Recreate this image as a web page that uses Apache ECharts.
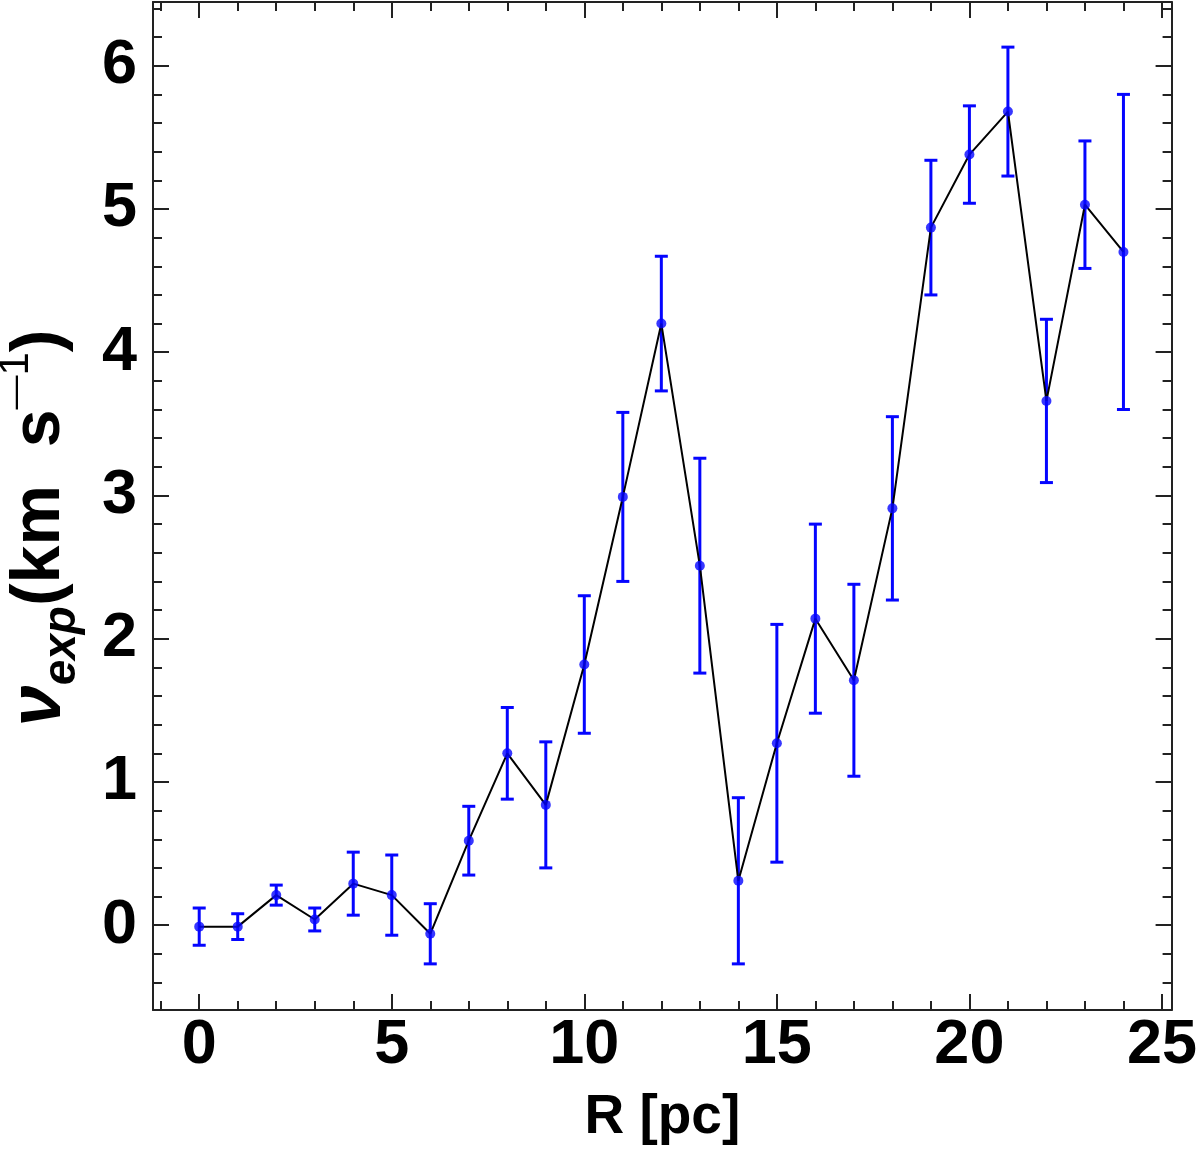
<!DOCTYPE html>
<html>
<head>
<meta charset="utf-8">
<script src="https://cdn.jsdelivr.net/npm/echarts@6/dist/echarts.min.js"></script>
<style>
  html, body { margin: 0; padding: 0; background: #fff; }
  #chart { width: 1200px; height: 1150px; }
</style>
</head>
<body>
<div id="chart"></div>
<script>
  // 数据
  var radius = [0, 1, 2, 3, 4, 5, 6, 7, 8, 9, 10, 11, 12, 13, 14, 15, 16, 17, 18, 19, 20, 21, 22, 23, 24];
  var vexp = [-0.01, -0.01, 0.21, 0.04, 0.29, 0.21, -0.06, 0.59, 1.20, 0.84, 1.82, 2.99, 4.20, 2.51,
              0.31, 1.27, 2.14, 1.71, 2.91, 4.87, 5.38, 5.68, 3.66, 5.03, 4.70];
  var vexpErr = [0.13, 0.09, 0.07, 0.08, 0.22, 0.28, 0.21, 0.24, 0.32, 0.44, 0.48, 0.59, 0.47, 0.75,
                 0.58, 0.83, 0.66, 0.67, 0.64, 0.47, 0.34, 0.45, 0.57, 0.445, 1.10];
  var xMajor = [0, 5, 10, 15, 20, 25];
  var xMinor = [-1, 0, 1, 2, 3, 4, 5, 6, 7, 8, 9, 10, 11, 12, 13, 14, 15, 16, 17, 18, 19, 20, 21, 22, 23, 24, 25];
  var yMajor = [0, 1, 2, 3, 4, 5, 6];
  var yMinor = [-0.4, -0.2, 0, 0.2, 0.4, 0.6, 0.8, 1, 1.2, 1.4, 1.6, 1.8, 2, 2.2, 2.4, 2.6, 2.8, 3, 3.2, 3.4,
                3.6, 3.8, 4, 4.2, 4.4, 4.6, 4.8, 5, 5.2, 5.4, 5.6, 5.8, 6, 6.2, 6.4];

  var FONT = '"Liberation Sans", Arial, Helvetica, sans-serif';
  var AXIS_COLOR = '#222';
  var BLUE = '#0505ff';

  var myChart = echarts.init(document.getElementById('chart'), null, { renderer: 'canvas' });

  var lineData = radius.map(function (r, i) { return [r, vexp[i]]; });
  var errData = radius.map(function (r, i) { return [r, vexp[i] - vexpErr[i], vexp[i] + vexpErr[i]]; });

  // 画坐标轴（主刻度 / 次刻度，上下左右都朝内）
  function xAx(pos, ticks, len, showLine, showLabel) {
    return {
      type: 'value', position: pos, min: -1.2, max: 25.25,
      axisLine: { show: showLine, onZero: false, lineStyle: { color: AXIS_COLOR, width: 2 } },
      axisTick: { show: true, inside: true, length: len, customValues: ticks, lineStyle: { color: AXIS_COLOR, width: 2 } },
      axisLabel: showLabel ? {
        customValues: xMajor, margin: 4, color: '#000', fontSize: 63, fontWeight: 'bold', fontFamily: FONT
      } : { show: false },
      splitLine: { show: false }
    };
  }
  function yAx(pos, ticks, len, showLine, showLabel) {
    return {
      type: 'value', position: pos, min: -0.592, max: 6.445,
      axisLine: { show: showLine, onZero: false, lineStyle: { color: AXIS_COLOR, width: 2 } },
      axisTick: { show: true, inside: true, length: len, customValues: ticks, lineStyle: { color: AXIS_COLOR, width: 2 } },
      axisLabel: showLabel ? {
        customValues: yMajor, margin: 16, color: '#000', fontSize: 63, fontWeight: 'bold', fontFamily: FONT
      } : { show: false },
      splitLine: { show: false }
    };
  }

  var xBottom = xAx('bottom', xMajor, 16, true, true);
  xBottom.name = 'R [pc]';
  xBottom.nameLocation = 'middle';
  xBottom.nameGap = 80;
  xBottom.nameTextStyle = { color: '#000', fontSize: 55, fontWeight: 'bold', fontFamily: FONT };

  var option = {
    animation: false,
    backgroundColor: '#fff',
    grid: { left: 153, top: 2, width: 1019, height: 1011, containLabel: false },
    xAxis: [
      xBottom,
      xAx('bottom', xMinor, 9, false, false),
      xAx('top', xMajor, 16, true, false),
      xAx('top', xMinor, 9, false, false)
    ],
    yAxis: [
      yAx('left', yMajor, 16, true, true),
      yAx('left', yMinor, 9, false, false),
      yAx('right', yMajor, 16, true, false),
      yAx('right', yMinor, 9, false, false)
    ],
    graphic: [{
      type: 'text',
      x: 40, y: 528,
      rotation: Math.PI / 2,
      style: {
        text: '{nu|ν}{sub|exp}{main|(km  s}{dash|—}{sup|1}{main|)}',
        align: 'center',
        verticalAlign: 'middle',
        fill: '#000',
        rich: {
          nu: { fontSize: 74, fontStyle: 'italic', fontWeight: 'bold', fontFamily: FONT, lineHeight: 90, verticalAlign: 'middle' },
          sub: { fontSize: 46, fontStyle: 'italic', fontWeight: 'bold', fontFamily: FONT, verticalAlign: 'bottom', lineHeight: 90 },
          main: { fontSize: 68, fontWeight: 'bold', fontFamily: FONT, lineHeight: 90, verticalAlign: 'middle' },
          dash: { fontSize: 34, fontFamily: FONT, verticalAlign: 'top', lineHeight: 90, padding: [4, 0, 0, 0] },
          sup: { fontSize: 42, fontFamily: FONT, verticalAlign: 'top', lineHeight: 90 }
        }
      }
    }],
    series: [
      {
        name: 'error',
        type: 'custom',
        xAxisIndex: 0,
        yAxisIndex: 0,
        data: errData,
        z: 2,
        renderItem: function (params, api) {
          var x = api.value(0);
          var lo = api.coord([x, api.value(1)]);
          var hi = api.coord([x, api.value(2)]);
          var cap = 6.5;
          var st = { stroke: BLUE, lineWidth: 3 };
          return {
            type: 'group',
            children: [
              { type: 'line', shape: { x1: lo[0], y1: lo[1], x2: hi[0], y2: hi[1] }, style: st },
              { type: 'line', shape: { x1: lo[0] - cap, y1: lo[1], x2: lo[0] + cap, y2: lo[1] }, style: st },
              { type: 'line', shape: { x1: hi[0] - cap, y1: hi[1], x2: hi[0] + cap, y2: hi[1] }, style: st }
            ]
          };
        }
      },
      {
        name: 'line',
        type: 'line',
        xAxisIndex: 0,
        yAxisIndex: 0,
        data: lineData,
        showSymbol: false,
        z: 3,
        lineStyle: { color: '#000', width: 2 }
      },
      {
        name: 'points',
        type: 'scatter',
        xAxisIndex: 0,
        yAxisIndex: 0,
        data: lineData,
        symbol: 'circle',
        symbolSize: 10,
        z: 4,
        itemStyle: { color: BLUE }
      }
    ]
  };
  myChart.setOption(option);
</script>
</body>
</html>
